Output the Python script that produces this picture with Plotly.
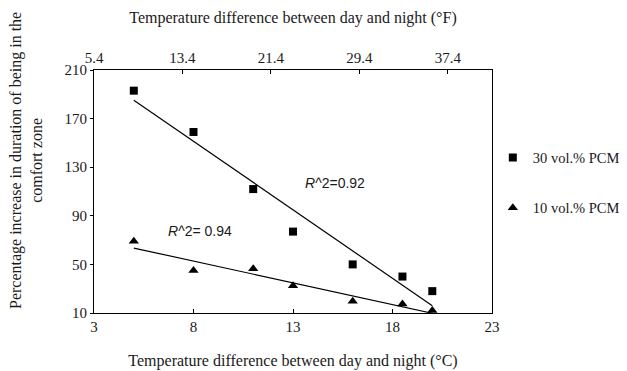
import numpy as np
import plotly.graph_objects as go

# Data
temp_diff_c = [5, 8, 11, 13, 16, 18.5, 20]
pcm30 = [193, 159, 112, 77, 50, 40, 28]
pcm10 = [69, 45, 46.5, 32.5, 19.6, 17.4, 12]
r2_30 = "0.92"
r2_10 = " 0.94"
x_ticks_c = [3, 8, 13, 18, 23]
x_ticks_f = [5.4, 13.4, 21.4, 29.4, 37.4]
y_ticks = [10, 50, 90, 130, 170, 210]
y_title = "Percentage increase in duration of being in the<br>comfort zone"

serif = "Liberation Serif"
sans = "Liberation Sans"
fs = 15
ts = 16

fit_x = [min(temp_diff_c), max(temp_diff_c)]
p30 = np.polyfit(temp_diff_c, pcm30, 1)
p10 = np.polyfit(temp_diff_c, pcm10, 1)

fig = go.Figure()
fig.add_trace(go.Scatter(x=temp_diff_c, y=pcm30, mode="markers", name="30 vol.% PCM",
                         marker=dict(symbol="square", size=8, color="black"), legend="legend"))
fig.add_trace(go.Scatter(x=temp_diff_c, y=pcm10, mode="markers", name="10 vol.% PCM",
                         marker=dict(symbol="triangle-up", size=9, color="black"), legend="legend2"))
fig.add_trace(go.Scatter(x=fit_x, y=np.polyval(p30, fit_x), mode="lines",
                         line=dict(color="black", width=1.2), showlegend=False))
fig.add_trace(go.Scatter(x=fit_x, y=np.polyval(p10, fit_x), mode="lines",
                         line=dict(color="black", width=1.2), showlegend=False))
# invisible trace for top axis
fig.add_trace(go.Scatter(x=[x_ticks_f[0]], y=[None], xaxis="x2", showlegend=False,
                         hoverinfo="skip"))

fig.update_layout(
    width=627, height=371,
    margin=dict(l=94, r=135, t=70, b=58, autoexpand=False),
    paper_bgcolor="white", plot_bgcolor="white",
    font=dict(family=serif, size=fs, color="#1a1a1a"),
    xaxis=dict(range=[3, 23], tickvals=x_ticks_c, showline=True, linecolor="black",
               linewidth=1, ticks="inside", ticklen=4, tickcolor="black",
               showgrid=False, zeroline=False,
               title=dict(text="Temperature difference between day and night (°C)",
                          font=dict(family=serif, size=ts), standoff=20),
               tickfont=dict(family=serif, size=fs)),
    xaxis2=dict(range=[5.4, 41.4], tickvals=x_ticks_f, ticktext=[f"{v:.1f}" for v in x_ticks_f],
                overlaying="x", side="top", showline=True, linecolor="black",
                linewidth=1, ticks="inside", ticklen=4, tickcolor="black",
                showgrid=False, zeroline=False,
                title=dict(text="Temperature difference between day and night (°F)",
                           font=dict(family=serif, size=ts), standoff=22),
                tickfont=dict(family=serif, size=fs)),
    yaxis=dict(range=[10, 210], tickvals=y_ticks, showline=True, linecolor="black",
               linewidth=1, mirror=True, ticks="outside", ticklen=3, tickcolor="black",
               showgrid=False, zeroline=False,
               tickfont=dict(family=serif, size=fs)),
    legend=dict(xref="container", yref="container", x=0.786, y=0.575,
                xanchor="left", yanchor="middle",
                font=dict(family=serif, size=14.5), bgcolor="rgba(0,0,0,0)",
                itemwidth=30, tracegroupgap=0),
    legend2=dict(xref="container", yref="container", x=0.786, y=0.44,
                 xanchor="left", yanchor="middle",
                 font=dict(family=serif, size=14.5), bgcolor="rgba(0,0,0,0)",
                 itemwidth=30),
    annotations=[
        dict(x=15.1, y=117, xref="x", yref="y",
             text="<i>R</i>^2=" + r2_30, showarrow=False,
             font=dict(family=sans, size=14, color="#1a1a1a")),
        dict(x=8.33, y=77.5, xref="x", yref="y",
             text="<i>R</i>^2=" + r2_10, showarrow=False,
             font=dict(family=sans, size=14, color="#1a1a1a")),
        dict(x=26 / 627, y=1 - 161 / 371, xref="paper", yref="paper",
             text=y_title, textangle=-90, showarrow=False,
             xanchor="center", yanchor="middle",
             font=dict(family=serif, size=ts, color="#1a1a1a")),
    ],
)
# place the y title annotation in container-like coordinates
fig.layout.annotations[2].update(xref="paper", yref="paper",
                                 x=(26 - 94) / (627 - 94 - 135),
                                 y=(371 - 58 - 161) / (371 - 70 - 58))

fig.write_html("out.html")
